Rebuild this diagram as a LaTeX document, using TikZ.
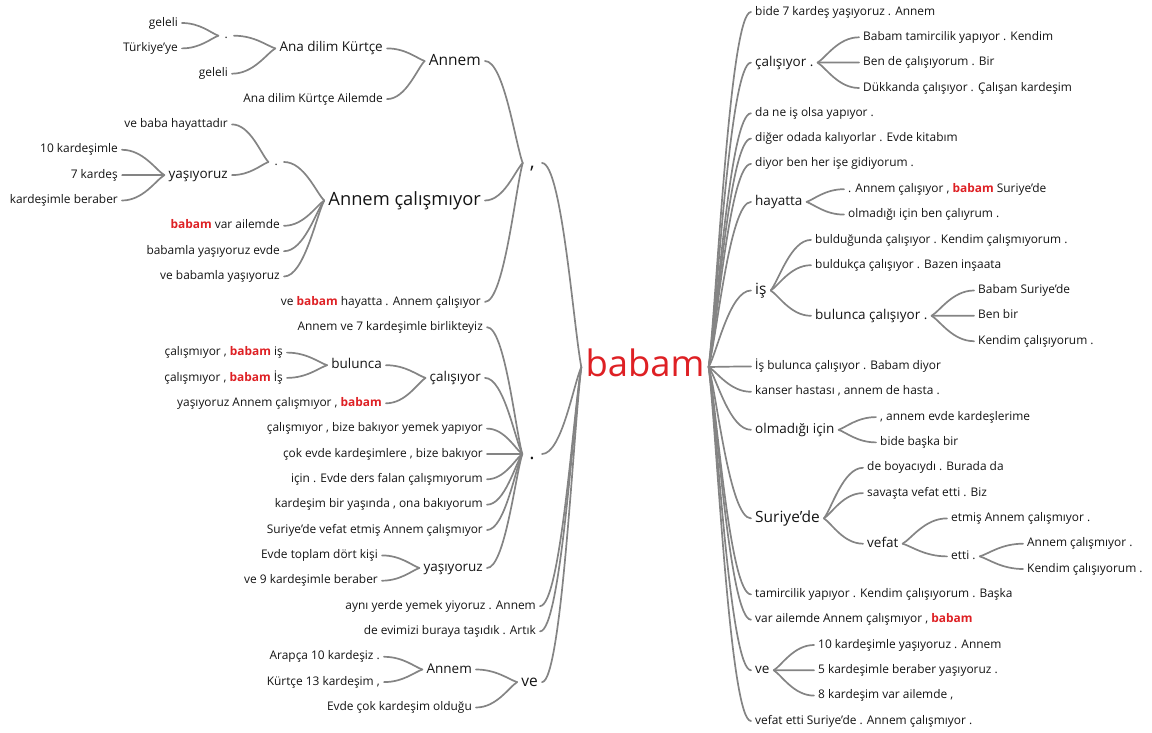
\documentclass[tikz,border=0pt]{standalone}
\usepackage{fontspec}
\setmainfont{Open Sans}
\usepackage{tikz}
\usetikzlibrary{calc}

\definecolor{babred}{RGB}{222,32,36}
\definecolor{ink}{RGB}{20,20,20}
\definecolor{stem}{RGB}{132,132,132}
\newcommand{\babam}{\textcolor{babred}{\bfseries babam}}

\begin{document}
\begin{tikzpicture}[x=1pt, y=-1pt,
    mot/.style={text=ink, inner xsep=4pt, inner ysep=0pt, font=\fontsize{11.9}{14}\selectfont, text height=8.6pt, text depth=2.4pt},
    mot2/.style={mot, font=\fontsize{13.5}{16}\selectfont, text height=9.7pt, text depth=2.7pt},
    mot3/.style={mot, font=\fontsize{15.5}{18}\selectfont, text height=11.2pt, text depth=3.1pt},
    mot4/.style={mot, font=\fontsize{18.3}{22}\selectfont, text height=13.2pt, text depth=3.7pt},
    ponct/.style={mot, font=\fontsize{20}{24}\selectfont, text height=14pt, text depth=4pt, inner xsep=7pt},
    branche/.style={draw=stem, line width=1.7pt, line cap=round,
        to path={let \p1=(\tikztostart), \p2=(\tikztotarget) in
            .. controls ($(\p1)!0.2!(\p2)$) and ({0.5*\x1+0.5*\x2},\y2) .. (\tikztotarget)}}]

    \useasboundingbox (0, 0) rectangle (1152, 733);

    % centre
    \node[font=\fontsize{36.4}{40}\selectfont, text=babred, inner xsep=4pt, inner ysep=0pt, text height=26pt, text depth=7pt] (babam) at (645, 367) {babam};

    % gauche
    \node[ponct, anchor=east] (virgule) at (542, 163) {,};
    \node[ponct, anchor=east] (point) at (542, 454) {.};
    \node[mot, anchor=east] (ayni) at (540, 606.1) {aynı yerde yemek yiyoruz . Annem};
    \node[mot, anchor=east] (evimizi) at (540, 631.4) {de evimizi buraya taşıdık . Artık};
    \node[mot3, anchor=east] (veG) at (542, 682.1) {ve};

    % sous la virgule
    \node[mot3, anchor=east] (annemA) at (485, 61) {Annem};
    \node[mot2, anchor=east] (anadil) at (387, 48.4) {Ana dilim Kürtçe};
    \node[mot, anchor=east, inner xsep=6pt] (pointA) at (234, 35.7) {.};
    \node[mot, anchor=east] (geleliA) at (182, 23) {geleli};
    \node[mot, anchor=east] (turkiye) at (182, 48.4) {Türkiye'ye};
    \node[mot, anchor=east] (geleliB) at (232, 73.7) {geleli};
    \node[mot, anchor=east] (ailemde) at (387, 99.1) {Ana dilim Kürtçe Ailemde};
    \node[mot4, anchor=east] (calismiyor) at (485, 200.5) {Annem çalışmıyor};
    \node[mot, anchor=east, inner xsep=6pt] (pointB) at (284, 162) {.};
    \node[mot, anchor=east] (hayattadir) at (232, 124.4) {ve baba hayattadır};
    \node[mot2, anchor=east] (yasiyorA) at (232, 175.1) {yaşıyoruz};
    \node[mot, anchor=east] (onG) at (122, 149.8) {10 kardeşimle};
    \node[mot, anchor=east] (yedi) at (122, 175.1) {7 kardeş};
    \node[mot, anchor=east] (beraberA) at (122, 200.5) {kardeşimle beraber};
    \node[mot, anchor=east] (varaile) at (284, 225.8) {\babam{} var ailemde};
    \node[mot, anchor=east] (evde) at (284, 251.2) {babamla yaşıyoruz evde};
    \node[mot, anchor=east] (babamla) at (284, 276.5) {ve babamla yaşıyoruz};
    \node[mot, anchor=east] (hayattaG) at (485, 301.9) {ve \babam{} hayatta . Annem çalışıyor};

    % sous le point
    \node[mot, anchor=east] (birlikte) at (487, 327.2) {Annem ve 7 kardeşimle birlikteyiz};
    \node[mot2, anchor=east] (calisiyorG) at (485, 377.9) {çalışıyor};
    \node[mot2, anchor=east] (bulunca) at (386, 365.2) {bulunca};
    \node[mot, anchor=east] (isA) at (287, 352.6) {çalışmıyor , \babam{} iş};
    \node[mot, anchor=east] (isB) at (287, 377.9) {çalışmıyor , \babam{} İş};
    \node[mot, anchor=east] (yasAnnem) at (386, 403.3) {yaşıyoruz Annem çalışmıyor , \babam};
    \node[mot, anchor=east] (bize) at (487, 428.6) {çalışmıyor , bize bakıyor yemek yapıyor};
    \node[mot, anchor=east] (cokevde) at (487, 454.0) {çok evde kardeşimlere , bize bakıyor};
    \node[mot, anchor=east] (ders) at (487, 479.3) {için . Evde ders falan çalışmıyorum};
    \node[mot, anchor=east] (yasinda) at (487, 504.7) {kardeşim bir yaşında , ona bakıyorum};
    \node[mot, anchor=east] (etmisG) at (487, 530.0) {Suriye'de vefat etmiş Annem çalışmıyor};
    \node[mot2, anchor=east] (yasiyorB) at (487, 568) {yaşıyoruz};
    \node[mot, anchor=east] (dort) at (382, 555.4) {Evde toplam dört kişi};
    \node[mot, anchor=east] (dokuz) at (382, 580.7) {ve 9 kardeşimle beraber};

    % sous ve
    \node[mot2, anchor=east] (annemB) at (476, 669.5) {Annem};
    \node[mot, anchor=east] (arapca) at (384, 656.8) {Arapça 10 kardeşiz .};
    \node[mot, anchor=east] (kurtce) at (384, 682.1) {Kürtçe 13 kardeşim ,};
    \node[mot, anchor=east] (oldugu) at (476, 707.5) {Evde çok kardeşim olduğu};

    % droite
    \node[mot, anchor=west] (bide) at (751, 12) {bide 7 kardeş yaşıyoruz . Annem};
    \node[mot2, anchor=west] (calisiyorD) at (751, 62.6) {çalışıyor .};
    \node[mot, anchor=west] (tamirci) at (859, 37.3) {Babam tamircilik yapıyor . Kendim};
    \node[mot, anchor=west] (bende) at (859, 62.6) {Ben de çalışıyorum . Bir};
    \node[mot, anchor=west] (dukkan) at (859, 88.0) {Dükkanda çalışıyor . Çalışan kardeşim};
    \node[mot, anchor=west] (dane) at (751, 113.3) {da ne iş olsa yapıyor .};
    \node[mot, anchor=west] (diger) at (751, 138.6) {diğer odada kalıyorlar . Evde kitabım};
    \node[mot, anchor=west] (diyor) at (751, 163.9) {diyor ben her işe gidiyorum .};
    \node[mot2, anchor=west] (hayattaD) at (751, 201.9) {hayatta};
    \node[mot, anchor=west] (annemcal) at (844, 189.2) {. Annem çalışıyor , \babam{} Suriye'de};
    \node[mot, anchor=west] (caliyrum) at (844, 214.6) {olmadığı için ben çalıyrum .};
    \node[mot3, anchor=west] (is) at (751, 290.5) {iş};
    \node[mot, anchor=west] (buldugunda) at (811, 239.9) {bulduğunda çalışıyor . Kendim çalışmıyorum .};
    \node[mot, anchor=west] (buldukca) at (811, 265.2) {buldukça çalışıyor . Bazen inşaata};
    \node[mot2, anchor=west] (bulcal) at (811, 315.8) {bulunca çalışıyor .};
    \node[mot, anchor=west] (suriyeA) at (974, 290.5) {Babam Suriye'de};
    \node[mot, anchor=west] (benbir) at (974, 315.8) {Ben bir};
    \node[mot, anchor=west] (kendimA) at (974, 341.2) {Kendim çalışıyorum .};
    \node[mot, anchor=west] (isbul) at (751, 366.5) {İş bulunca çalışıyor . Babam diyor};
    \node[mot, anchor=west] (kanser) at (751, 391.8) {kanser hastası , annem de hasta .};
    \node[mot2, anchor=west] (olmadigi) at (751, 429.8) {olmadığı için};
    \node[mot, anchor=west] (kardesler) at (876, 417.1) {, annem evde kardeşlerime};
    \node[mot, anchor=west] (baska) at (876, 442.4) {bide başka bir};
    \node[mot3, anchor=west] (suriye) at (751, 518.4) {Suriye'de};
    \node[mot, anchor=west] (boyaci) at (863, 467.8) {de boyacıydı . Burada da};
    \node[mot, anchor=west] (savasta) at (863, 493.1) {savaşta vefat etti . Biz};
    \node[mot2, anchor=west] (vefat) at (863, 543.7) {vefat};
    \node[mot, anchor=west] (etmisD) at (947, 518.4) {etmiş Annem çalışmıyor .};
    \node[mot, anchor=west] (etti) at (947, 556.4) {etti .};
    \node[mot, anchor=west] (annemcalB) at (1023, 543.7) {Annem çalışmıyor .};
    \node[mot, anchor=west] (kendimB) at (1023, 569.0) {Kendim çalışıyorum .};
    \node[mot, anchor=west] (tamircilik) at (751, 594.4) {tamircilik yapıyor . Kendim çalışıyorum . Başka};
    \node[mot, anchor=west] (varaileD) at (751, 619.7) {var ailemde Annem çalışmıyor , \babam};
    \node[mot2, anchor=west] (veD) at (751, 670.3) {ve};
    \node[mot, anchor=west] (onD) at (814, 645.0) {10 kardeşimle yaşıyoruz . Annem};
    \node[mot, anchor=west] (bes) at (814, 670.3) {5 kardeşimle beraber yaşıyoruz .};
    \node[mot, anchor=west] (sekiz) at (814, 695.6) {8 kardeşim var ailemde ,};
    \node[mot, anchor=west] (vefatetti) at (751, 721.0) {vefat etti Suriye'de . Annem çalışmıyor .};

    % branches gauche
    \draw[branche] (babam.west) to (virgule.east);
    \draw[branche] (babam.west) to (point.east);
    \draw[branche] (babam.west) to (ayni.east);
    \draw[branche] (babam.west) to (evimizi.east);
    \draw[branche] (babam.west) to (veG.east);
    \draw[branche] (virgule.west) to (annemA.east);
    \draw[branche] (virgule.west) to (calismiyor.east);
    \draw[branche] (virgule.west) to (hayattaG.east);
    \draw[branche] (annemA.west) to (anadil.east);
    \draw[branche] (annemA.west) to (ailemde.east);
    \draw[branche] (anadil.west) to (pointA.east);
    \draw[branche] (anadil.west) to (geleliB.east);
    \draw[branche] (pointA.west) to (geleliA.east);
    \draw[branche] (pointA.west) to (turkiye.east);
    \draw[branche] (calismiyor.west) to (pointB.east);
    \draw[branche] (calismiyor.west) to (varaile.east);
    \draw[branche] (calismiyor.west) to (evde.east);
    \draw[branche] (calismiyor.west) to (babamla.east);
    \draw[branche] (pointB.west) to (hayattadir.east);
    \draw[branche] (pointB.west) to (yasiyorA.east);
    \draw[branche] (yasiyorA.west) to (onG.east);
    \draw[branche] (yasiyorA.west) to (yedi.east);
    \draw[branche] (yasiyorA.west) to (beraberA.east);
    \draw[branche] (point.west) to (birlikte.east);
    \draw[branche] (point.west) to (calisiyorG.east);
    \draw[branche] (point.west) to (bize.east);
    \draw[branche] (point.west) to (cokevde.east);
    \draw[branche] (point.west) to (ders.east);
    \draw[branche] (point.west) to (yasinda.east);
    \draw[branche] (point.west) to (etmisG.east);
    \draw[branche] (point.west) to (yasiyorB.east);
    \draw[branche] (calisiyorG.west) to (bulunca.east);
    \draw[branche] (calisiyorG.west) to (yasAnnem.east);
    \draw[branche] (bulunca.west) to (isA.east);
    \draw[branche] (bulunca.west) to (isB.east);
    \draw[branche] (yasiyorB.west) to (dort.east);
    \draw[branche] (yasiyorB.west) to (dokuz.east);
    \draw[branche] (veG.west) to (annemB.east);
    \draw[branche] (veG.west) to (oldugu.east);
    \draw[branche] (annemB.west) to (arapca.east);
    \draw[branche] (annemB.west) to (kurtce.east);

    % branches droite
    \draw[branche] (babam.east) to (bide.west);
    \draw[branche] (babam.east) to (calisiyorD.west);
    \draw[branche] (babam.east) to (dane.west);
    \draw[branche] (babam.east) to (diger.west);
    \draw[branche] (babam.east) to (diyor.west);
    \draw[branche] (babam.east) to (hayattaD.west);
    \draw[branche] (babam.east) to (is.west);
    \draw[branche] (babam.east) to (isbul.west);
    \draw[branche] (babam.east) to (kanser.west);
    \draw[branche] (babam.east) to (olmadigi.west);
    \draw[branche] (babam.east) to (suriye.west);
    \draw[branche] (babam.east) to (tamircilik.west);
    \draw[branche] (babam.east) to (varaileD.west);
    \draw[branche] (babam.east) to (veD.west);
    \draw[branche] (babam.east) to (vefatetti.west);
    \draw[branche] (calisiyorD.east) to (tamirci.west);
    \draw[branche] (calisiyorD.east) to (bende.west);
    \draw[branche] (calisiyorD.east) to (dukkan.west);
    \draw[branche] (hayattaD.east) to (annemcal.west);
    \draw[branche] (hayattaD.east) to (caliyrum.west);
    \draw[branche] (is.east) to (buldugunda.west);
    \draw[branche] (is.east) to (buldukca.west);
    \draw[branche] (is.east) to (bulcal.west);
    \draw[branche] (bulcal.east) to (suriyeA.west);
    \draw[branche] (bulcal.east) to (benbir.west);
    \draw[branche] (bulcal.east) to (kendimA.west);
    \draw[branche] (olmadigi.east) to (kardesler.west);
    \draw[branche] (olmadigi.east) to (baska.west);
    \draw[branche] (suriye.east) to (boyaci.west);
    \draw[branche] (suriye.east) to (savasta.west);
    \draw[branche] (suriye.east) to (vefat.west);
    \draw[branche] (vefat.east) to (etmisD.west);
    \draw[branche] (vefat.east) to (etti.west);
    \draw[branche] (etti.east) to (annemcalB.west);
    \draw[branche] (etti.east) to (kendimB.west);
    \draw[branche] (veD.east) to (onD.west);
    \draw[branche] (veD.east) to (bes.west);
    \draw[branche] (veD.east) to (sekiz.west);

\end{tikzpicture}
\end{document}
